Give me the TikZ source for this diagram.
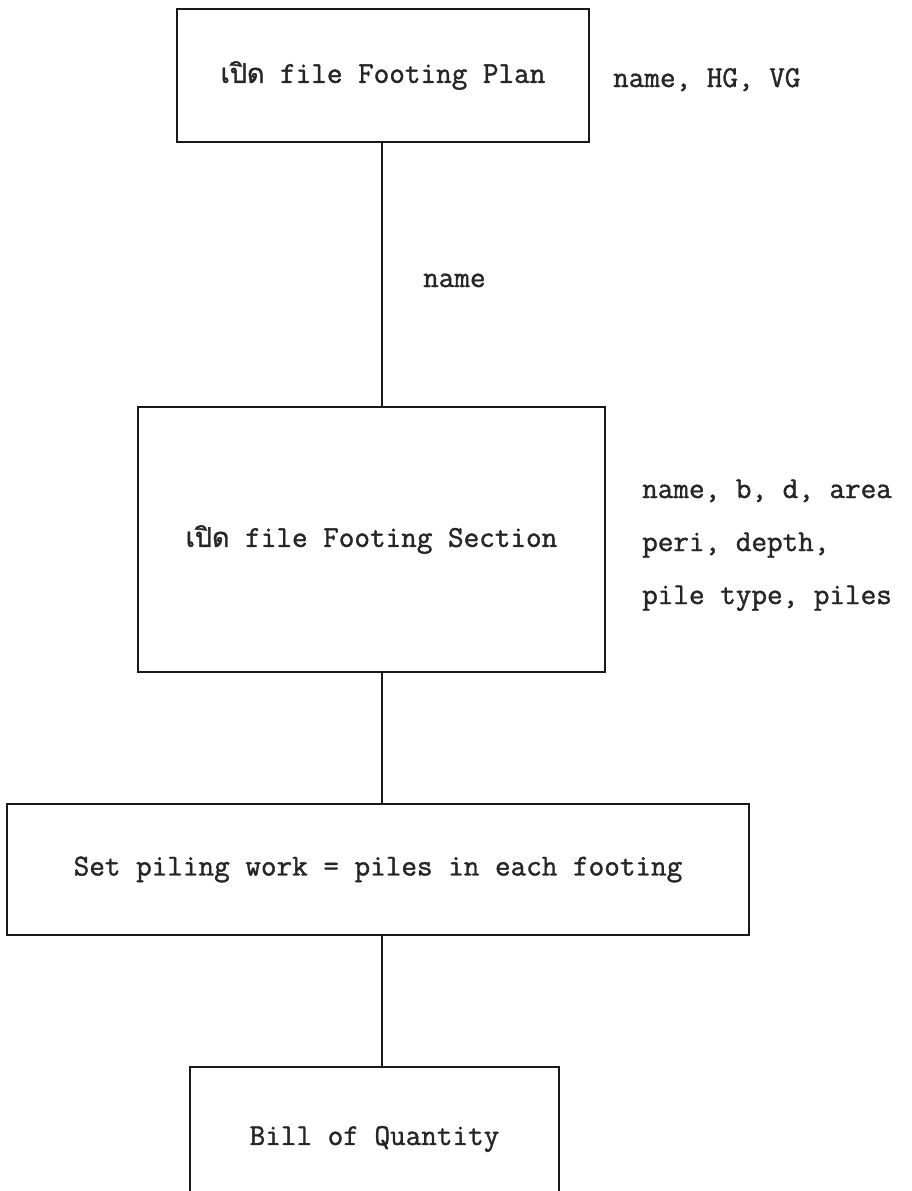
\documentclass[tikz,border=0pt]{standalone}
\usepackage{fontspec}
% typewriter face, slightly heavier as from a ribbon printer
\newfontfamily\typeface{Latin Modern Mono}[FakeBold=1.3]
\newfontfamily\thaifont[Script=Thai,FakeBold=1.3]{Loma}
\begin{document}
\begin{tikzpicture}[x=1pt,y=-1pt,
  txt/.style={font=\typeface\fontsize{30.3}{34}\selectfont, text=black!85, inner sep=0pt},
  flowbox/.style={txt, draw=black!90, line width=1.7pt, align=center},
  link/.style={draw=black!90, line width=1.7pt}]
\fill[white] (0,0) rectangle (911,1191);
\clip (0,0) rectangle (911,1191);
\useasboundingbox (0,0) rectangle (911,1191);

% Thai verb set a little smaller than the typewriter text around it
\newcommand{\openfile}{{\thaifont\fontsize{27}{30}\selectfont เปิด}}

% process boxes, top to bottom
\node[flowbox, minimum width=412pt, minimum height=133pt] (plan) at (383,75.5)
  {\openfile\ file Footing Plan};
\node[flowbox, minimum width=467pt, minimum height=265pt] (section) at (371.5,539.5)
  {\openfile\ file Footing Section};
\node[flowbox, minimum width=742pt, minimum height=131pt] (piling) at (378,869.5)
  {Set piling work = piles in each footing};
\node[flowbox, minimum width=369pt, minimum height=144pt] (boq) at (374.5,1139)
  {Bill of Quantity};

% the spine the connectors follow
\coordinate (spine) at (382,0);
\draw[link] (plan.south -| spine) -- (section.north -| spine);
\draw[link] (section.south -| spine) -- (piling.north -| spine);
\draw[link] (piling.south -| spine) -- (boq.north -| spine);

% data carried at each step
\node[txt, anchor=base west] (planvars) at (613,87) {name, HG, VG};
\node[txt, anchor=base west] (linkname) at (423,287) {name};
\node[txt, anchor=base west] (secvarsa) at (642,498) {name, b, d, area};
\node[txt, anchor=base west] (secvarsb) at (642,551) {peri, depth,};
\node[txt, anchor=base west] (secvarsc) at (642,604) {pile type, piles};
\end{tikzpicture}
\end{document}
